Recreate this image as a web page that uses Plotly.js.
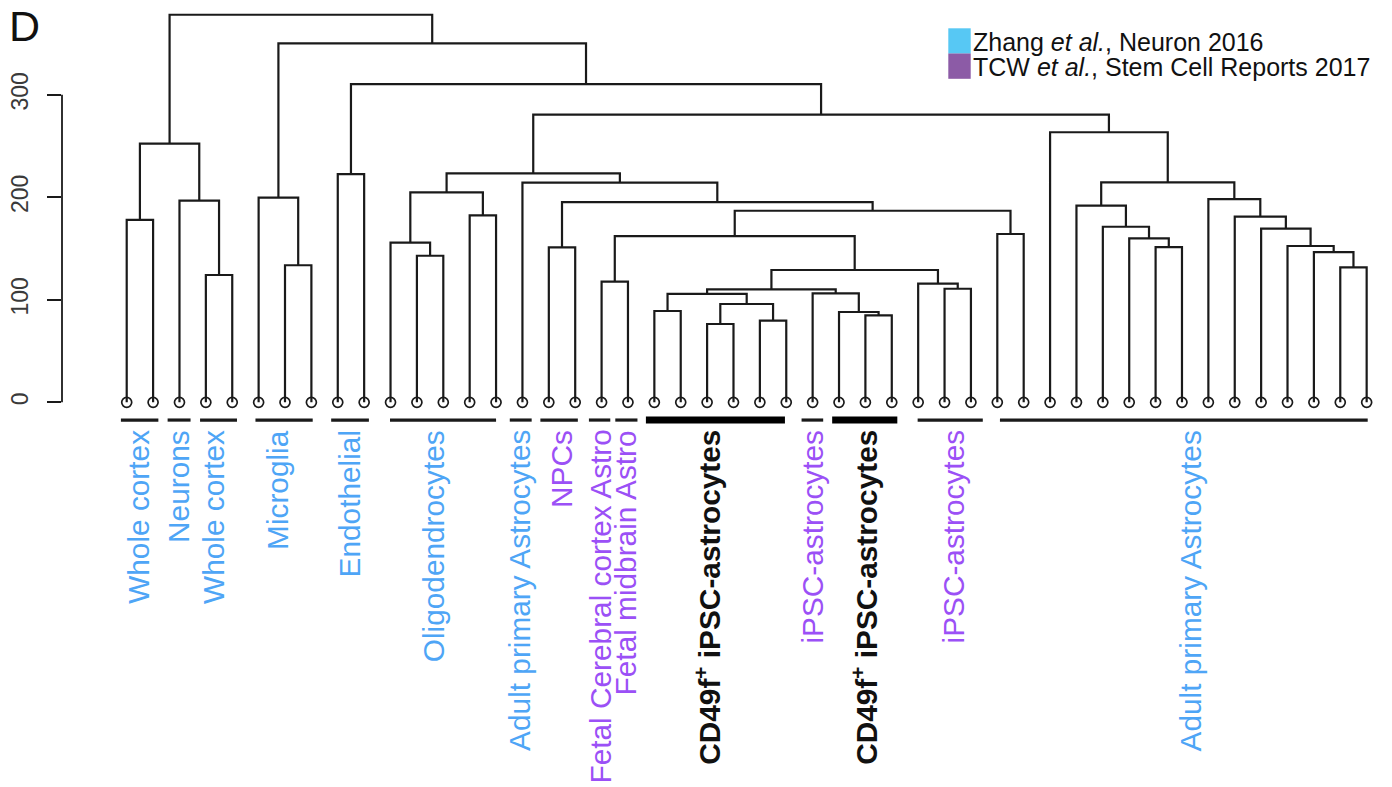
<!DOCTYPE html>
<html><head><meta charset="utf-8">
<script src="https://cdn.plot.ly/plotly-3.0.1.min.js"></script>
<style>html,body{margin:0;padding:0;background:#fff;} #chart{width:1392px;height:787px;}</style>
</head><body><div id="chart"></div>
<script>
// ---------------- DATA ----------------
const nLeaves = 48;
// hclust-style merge table: negative = leaf (display order), positive = earlier merge number
const mergeLeft   = [-23,-25,-29,-28,-21, 1, 5,-27, 7,-32,-31,-19, -4, 9,-47, -7,-12,-46,-17,-40,-45,-11,-39,12,-34,-44,-38, -1,-43,-14,24,-37,19, -3,-42, -6,22,-16,32, -9,37,28,-36,41,40,36,42];
const mergeRight  = [-24,-26,-30,  3,-22, 2, 6,  4, 8,-33, 10,-20, -5,11,-48, -8,-13, 15,-18,-41, 18, 17, 20,14,-35, 21, 23, -2, 26,-15,25, 27,31, 13, 29, 16,30, 33,35,-10,38,34, 39,43,44,45,46];
const mergeHeight = [76.4,79.6,84.9,88.1,89.1,95.9,105.7,106.3,110.2,110.8,115.7,117.7,124.2,129.1,131.7,133.7,143.0,146.6,151.2,151.5,152.5,155.7,160.0,162.2,164.2,169.4,171.3,177.9,181.1,182.4,186.9,191.8,195.4,196.7,198.3,199.6,204.9,214.3,214.6,222.7,223.4,252.3,263.5,280.6,310.5,350.2,378.1];

const yTicks = [0, 100, 200, 300];

const groupLabels = ['Whole cortex','Neurons','Whole cortex','Microglia','Endothelial','Oligodendrocytes',
  'Adult primary Astrocytes','NPCs','Fetal Cerebral cortex Astro','Fetal midbrain Astro',
  'CD49f<sup>+</sup> iPSC-astrocytes','iPSC-astrocytes','CD49f<sup>+</sup> iPSC-astrocytes','iPSC-astrocytes','Adult primary Astrocytes'];
const groupFirst  = [1,3,4,6, 9,11,16,17,19,20,21,27,28,31,34];
const groupLast   = [2,3,5,8,10,15,16,18,19,20,26,27,30,33,48];
const groupSource = ['Zhang','Zhang','Zhang','Zhang','Zhang','Zhang','Zhang','TCW','TCW','TCW','CD49f','TCW','CD49f','TCW','Zhang'];

const legendLabels = ['Zhang <i>et al.</i>, Neuron 2016', 'TCW <i>et al.</i>, Stem Cell Reports 2017'];
const legendKeys   = ['Zhang', 'TCW'];

// ---------------- STYLE / LAYOUT TWEAKS ----------------
const FONT = 'Liberation Sans, Arial, Helvetica, sans-serif';
const INK = '#1a1a1a';
const labelColor = {Zhang:'#4ea5f6', TCW:'#9b50f6', CD49f:'#111111'};
const legendColor = {Zhang:'#57c8f4', TCW:'#8c5ba6'};
const W = 1392, H = 787, ML = 62, MR = 14;
const px2paperX = p => (p - ML) / (W - ML - MR);
const px2paperY = p => 1 - p / H;
// underline overhang beyond the first/last leaf (leaf units) and label nudges (px), per group
const underPadL = [0.22,0.45,0.22,0.12,0.25,0.02,0.48,0.32,0.48,0.48,0.32,0.42,0.26,0.02,-0.1];
const underPadR = [0.2, 0.42,0.18,0.05,0.18,0.0, 0.35,0.1, 0.33,0.36,-0.05,0.4,0.21,0.45,0.04];
const labelNudge = [-1,-1,-5,-7,-2,-9,-3,0,-1,-3,-12,0,0,9,8];

// ---------------- DENDROGRAM GEOMETRY ----------------
const nodeX = [], nodeH = [];
const cx = id => id < 0 ? -id : nodeX[id - 1];
const ch = id => id < 0 ? 0 : nodeH[id - 1];
const lx = [], ly = [];
for (let i = 0; i < mergeHeight.length; i++) {
  const a = mergeLeft[i], b = mergeRight[i], h = mergeHeight[i];
  lx.push(cx(a), cx(a), cx(b), cx(b), null);
  ly.push(ch(a), h, h, ch(b), null);
  nodeX.push((cx(a) + cx(b)) / 2);
  nodeH.push(h);
}
const leafX = Array.from({length: nLeaves}, (_, i) => i + 1);

const traces = [];
traces.push({type:'scatter', mode:'lines', x:lx, y:ly, line:{color:INK, width:2.2}, hoverinfo:'skip', cliponaxis:false});
traces.push({type:'scatter', mode:'markers', x:leafX, y:leafX.map(() => 0),
  marker:{symbol:'circle-open', size:10, color:INK, line:{width:1.7, color:INK}}, hoverinfo:'skip', cliponaxis:false});

const UNDER_Y = -17.3, LABEL_Y = -25.0;
const annotations = [];
for (let g = 0; g < groupLabels.length; g++) {
  const bold = groupSource[g] === 'CD49f';
  traces.push({type:'scatter', mode:'lines', x:[groupFirst[g] - underPadL[g], groupLast[g] + underPadR[g]], y:[UNDER_Y, UNDER_Y],
    line:{color: bold ? '#000' : INK, width: bold ? 7 : 3.2}, hoverinfo:'skip'});
  annotations.push({xref:'x', yref:'y', x:(groupFirst[g] + groupLast[g]) / 2, y:LABEL_Y, xshift:labelNudge[g],
    text: bold ? '<b>' + groupLabels[g] + '</b>' : groupLabels[g],
    textangle:-90, xanchor:'center', yanchor:'top', showarrow:false,
    font:{family:FONT, size:29.8, color:labelColor[groupSource[g]]}});
}

// panel letter
annotations.push({xref:'paper', yref:'paper', x:px2paperX(7), y:px2paperY(0), xanchor:'left', yanchor:'top',
  text:'D', showarrow:false, font:{family:FONT, size:43, color:'#111'}});

// legend
const shapes = [];
const legTop = [28.3, 53.5];
for (let k = 0; k < legendLabels.length; k++) {
  shapes.push({type:'rect', xref:'paper', yref:'paper', x0:px2paperX(948.3), x1:px2paperX(970.7),
    y0:px2paperY(legTop[k]), y1:px2paperY(legTop[k] + 25.3), fillcolor:legendColor[legendKeys[k]], line:{width:0}});
  annotations.push({xref:'paper', yref:'paper', x:px2paperX(970.5), y:px2paperY(legTop[k] + 13.4),
    xanchor:'left', yanchor:'middle', text:legendLabels[k], showarrow:false,
    font:{family:FONT, size:25, color:'#111'}});
}
// y axis line (R style, spans only the tick range)
shapes.push({type:'line', xref:'paper', yref:'y', x0:0, x1:0, y0:yTicks[0], y1:yTicks[yTicks.length-1],
  line:{color:INK, width:1.8}});

const layout = {
  width:W, height:H, margin:{l:ML, r:MR, t:0, b:0, pad:0},
  paper_bgcolor:'#fff', plot_bgcolor:'#fff', showlegend:false,
  xaxis:{range:[-1.453, 48.43], visible:false, fixedrange:true},
  yaxis:{range:[-375.3, 392.5], tickvals:yTicks, ticktext:yTicks.map(String), ticks:'outside', ticklen:14,
    tickwidth:1.8, tickcolor:INK, showgrid:false, zeroline:false, showline:false, tickangle:-90,
    ticklabelstandoff:10,
    tickfont:{family:FONT, size:23, color:'#3a3a3a'}, fixedrange:true},
  shapes:shapes, annotations:annotations
};
Plotly.newPlot('chart', traces, layout, {displayModeBar:false, staticPlot:true});
</script></body></html>
